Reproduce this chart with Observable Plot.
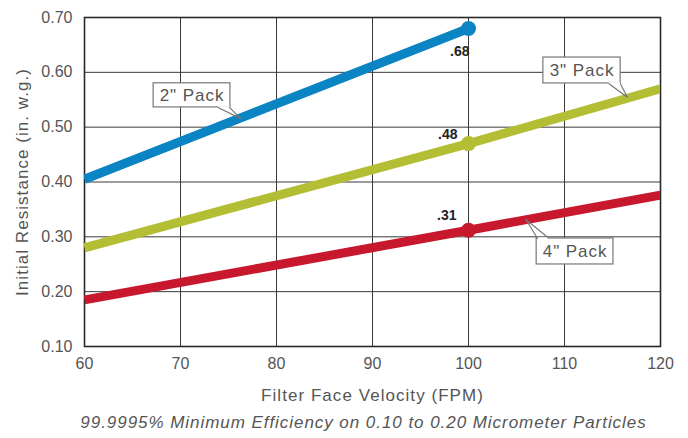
<!DOCTYPE html>
<html>
<head>
<meta charset="utf-8">
<script src="https://cdn.jsdelivr.net/npm/d3@7"></script>
<script src="https://cdn.jsdelivr.net/npm/@observablehq/plot@0.6"></script>
<style>
  html, body { margin: 0; padding: 0; background: #fff; }
  .sp text { letter-spacing: 1.05px; }
  .sp2 text { letter-spacing: 0.95px; }
</style>
</head>
<body>
<div id="chart"></div>
<script>
// ---- data ----
const seriesNames = ['2" Pack', '3" Pack', '4" Pack'];
const seriesColors = ["#0a84c2", "#b4be35", "#c8182e"];
const velocity2 = [60, 100];
const pack2 = [0.405, 0.68];
const velocity34 = [60, 100, 120];
const pack3 = [0.28, 0.47, 0.57];
const pack4 = [0.185, 0.312, 0.376];
const markerVelocity = 100;
const markerValues = [0.68, 0.47, 0.312];
const markerLabels = [".68", ".48", ".31"];
const xTicks = [60, 70, 80, 90, 100, 110, 120];
const yTicks = [0.1, 0.2, 0.3, 0.4, 0.5, 0.6, 0.7];
const xTitle = "Filter Face Velocity (FPM)";
const yTitle = "Initial Resistance (in. w.g.)";
const caption = "99.9995% Minimum Efficiency on 0.10 to 0.20 Micrometer Particles";

// callout annotations (data coordinates)
const callouts = [
  {label: seriesNames[0], x1: 67.2, x2: 75.2, y1: 0.536, y2: 0.580, bx1: 73.9, bx2: 75.1, by: 0.536, tx: 76.25, ty: 0.516},
  {label: seriesNames[1], x1: 107.8, x2: 115.85, y1: 0.5797, y2: 0.627, bx1: 114.6, bx2: 115.8, by: 0.5797, tx: 116.55, ty: 0.5547},
  {label: seriesNames[2], x1: 107.1, x2: 115.1, y1: 0.2496, y2: 0.297, bx1: 107.2, bx2: 108.4, by: 0.297, tx: 105.95, ty: 0.332}
];

// ---- build rows ----
const rows = [];
velocity2.forEach((v, i) => rows.push({series: seriesNames[0], v, r: pack2[i]}));
velocity34.forEach((v, i) => rows.push({series: seriesNames[1], v, r: pack3[i]}));
velocity34.forEach((v, i) => rows.push({series: seriesNames[2], v, r: pack4[i]}));
const markers = seriesNames.map((s, i) => ({series: s, v: markerVelocity, r: markerValues[i], label: markerLabels[i]}));

const fam = "'Liberation Sans', Arial, Helvetica, sans-serif";

const chart = Plot.plot({
  width: 688,
  height: 438,
  marginLeft: 84,
  marginRight: 28,
  marginTop: 17,
  marginBottom: 92,
  style: {fontFamily: fam, fontSize: "16px", color: "#555", background: "#fff"},
  x: {domain: [60, 120], ticks: xTicks, label: null},
  y: {domain: [0.1, 0.7], ticks: yTicks, label: null, tickFormat: d3.format(".2f")},
  color: {domain: seriesNames, range: seriesColors},
  marks: [
    Plot.gridX(xTicks.slice(1, -1), {stroke: "#3a3a3a", strokeOpacity: 1, strokeWidth: 1}),
    Plot.gridY(yTicks.slice(1, -1), {stroke: "#3a3a3a", strokeOpacity: 1, strokeWidth: 1}),
    Plot.frame({stroke: "#2a2a2a", strokeWidth: 1.6}),
    Plot.axisX({ticks: xTicks, tickSize: 0, tickPadding: 11, fontSize: 16, label: null}),
    Plot.axisY({ticks: yTicks, tickSize: 0, tickPadding: 12, fontSize: 16, label: null, tickFormat: d3.format(".2f")}),
    Plot.line(rows, {x: "v", y: "r", z: "series", stroke: "series", strokeWidth: 9, strokeLinecap: "butt", clip: true}),
    Plot.dot(markers, {x: "v", y: "r", fill: "series", r: 7.5, stroke: null}),
    Plot.text(markers.slice(0, 1), {x: "v", y: "r", text: "label", textAnchor: "end", dx: 1, dy: 23, fontSize: 14, fontWeight: "bold", fill: "#222"}),
    Plot.text(markers.slice(1, 2), {x: "v", y: "r", text: "label", textAnchor: "end", dx: -11, dy: -9, fontSize: 14, fontWeight: "bold", fill: "#222"}),
    Plot.text(markers.slice(2, 3), {x: "v", y: "r", text: "label", textAnchor: "end", dx: -12, dy: -15, fontSize: 14, fontWeight: "bold", fill: "#222"}),
    // callouts
    Plot.rect(callouts, {x1: "x1", x2: "x2", y1: "y1", y2: "y2", fill: "#fff", stroke: "#777", strokeWidth: 1.2}),
    Plot.link(callouts, {x1: "bx1", x2: "bx2", y1: "by", y2: "by", stroke: "#fff", strokeWidth: 2.5}),
    Plot.link(callouts, {x1: "bx1", y1: "by", x2: "tx", y2: "ty", stroke: "#777", strokeWidth: 1.2}),
    Plot.link(callouts, {x1: "bx2", y1: "by", x2: "tx", y2: "ty", stroke: "#777", strokeWidth: 1.2}),
    Plot.text(callouts, {x: d => (d.x1 + d.x2) / 2, y: d => (d.y1 + d.y2) / 2, text: "label", fontSize: 17, fill: "#555", className: "sp2"}),
    // titles
    Plot.text([xTitle], {frameAnchor: "bottom", dy: 54, fontSize: 17, fill: "#555", className: "sp"}),
    Plot.text([yTitle], {frameAnchor: "left", textAnchor: "middle", dx: -62, rotate: -90, fontSize: 17, fill: "#555", className: "sp"}),
    Plot.text([caption], {frameAnchor: "bottom", dy: 81, dx: -9, fontSize: 17, fontStyle: "italic", fill: "#555", className: "sp2"})
  ]
});
document.getElementById("chart").appendChild(chart);
</script>
</body>
</html>
